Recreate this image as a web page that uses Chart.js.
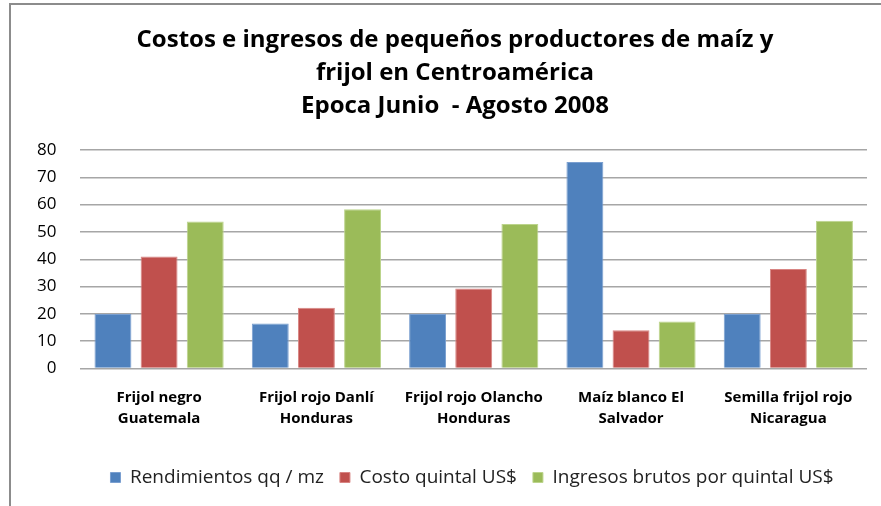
<!DOCTYPE html>
<html>
<head>
<meta charset="utf-8">
<script src="https://cdn.jsdelivr.net/npm/chart.js@4"></script>
<style>
  html, body { margin: 0; padding: 0; background: #fff; }
  #wrap { position: relative; width: 881px; height: 506px; overflow: hidden; }
  #frame { position: absolute; left: 9px; top: 3px; width: 900px; height: 560px; border: 2px solid #8c8c8c; box-sizing: border-box; }
  canvas { position: absolute; left: 0; top: 0; }
</style>
</head>
<body>
<div id="wrap">
  <div id="frame"></div>
  <canvas id="chart" width="881" height="506"></canvas>
</div>
<script>
const categories = [
  ['Frijol negro', 'Guatemala'],
  ['Frijol rojo Danlí', 'Honduras'],
  ['Frijol rojo Olancho', 'Honduras'],
  ['Maíz blanco El', 'Salvador'],
  ['Semilla frijol rojo', 'Nicaragua']
];
const rendimientos = [20, 16.5, 20, 75.6, 20];
const costo = [41, 22.2, 29.3, 14, 36.4];
const ingresos = [53.8, 58.3, 52.9, 17.2, 54.1];
const titleLines = [
  'Costos e ingresos de pequeños productores de maíz y',
  'frijol en Centroamérica',
  'Epoca Junio  - Agosto 2008'
];

// nudge title and legend sideways to sit like the original
const shiftBoxes = {
  id: 'shiftBoxes',
  afterLayout(chart) {
    chart.titleBlock.left += 15;
    chart.titleBlock.right += 15;
    chart.legend.left += 32;
    chart.legend.right += 32;
  }
};

const ctx = document.getElementById('chart').getContext('2d');
new Chart(ctx, {
  type: 'bar',
  data: {
    labels: categories,
    datasets: [
      { label: 'Rendimientos qq / mz', data: rendimientos, backgroundColor: '#4f81bd', borderColor: '#7a9fd0', borderWidth: 1 },
      { label: 'Costo quintal US$', data: costo, backgroundColor: '#c0504d', borderColor: '#d88583', borderWidth: 1 },
      { label: 'Ingresos brutos por quintal US$', data: ingresos, backgroundColor: '#9bbb59', borderColor: '#bcd48c', borderWidth: 1 }
    ]
  },
  options: {
    responsive: false,
    animation: false,
    categoryPercentage: 0.88,
    barPercentage: 0.8,
    layout: { padding: { left: 13, right: 14, top: 24, bottom: 9 } },
    plugins: {
      title: {
        display: true,
        text: titleLines,
        color: '#000',
        font: { family: 'Open Sans', size: 24, weight: 'bold', lineHeight: 1.375 },
        padding: { top: 0, bottom: 27 }
      },
      legend: {
        position: 'bottom',
        labels: {
          color: '#222',
          font: { family: 'Open Sans', size: 19 },
          boxWidth: 10,
          boxHeight: 10,
          padding: 16
        }
      },
      tooltip: { enabled: false }
    },
    scales: {
      x: {
        grid: { display: false },
        border: { display: false },
        ticks: {
          color: '#000',
          font: { family: 'Open Sans', size: 15, weight: 'bold', lineHeight: 1.45 },
          padding: 10,
          maxRotation: 0
        },
        afterFit(scale) {
          scale.height += 12;
        }
      },
      y: {
        min: 0,
        max: 80,
        ticks: {
          stepSize: 10,
          color: '#000',
          font: { family: 'Open Sans', size: 17 },
          padding: 24
        },
        grid: { color: '#a6a6a6', lineWidth: 1.5, drawTicks: false },
        border: { display: false }
      }
    }
  },
  plugins: [shiftBoxes]
});
</script>
</body>
</html>
